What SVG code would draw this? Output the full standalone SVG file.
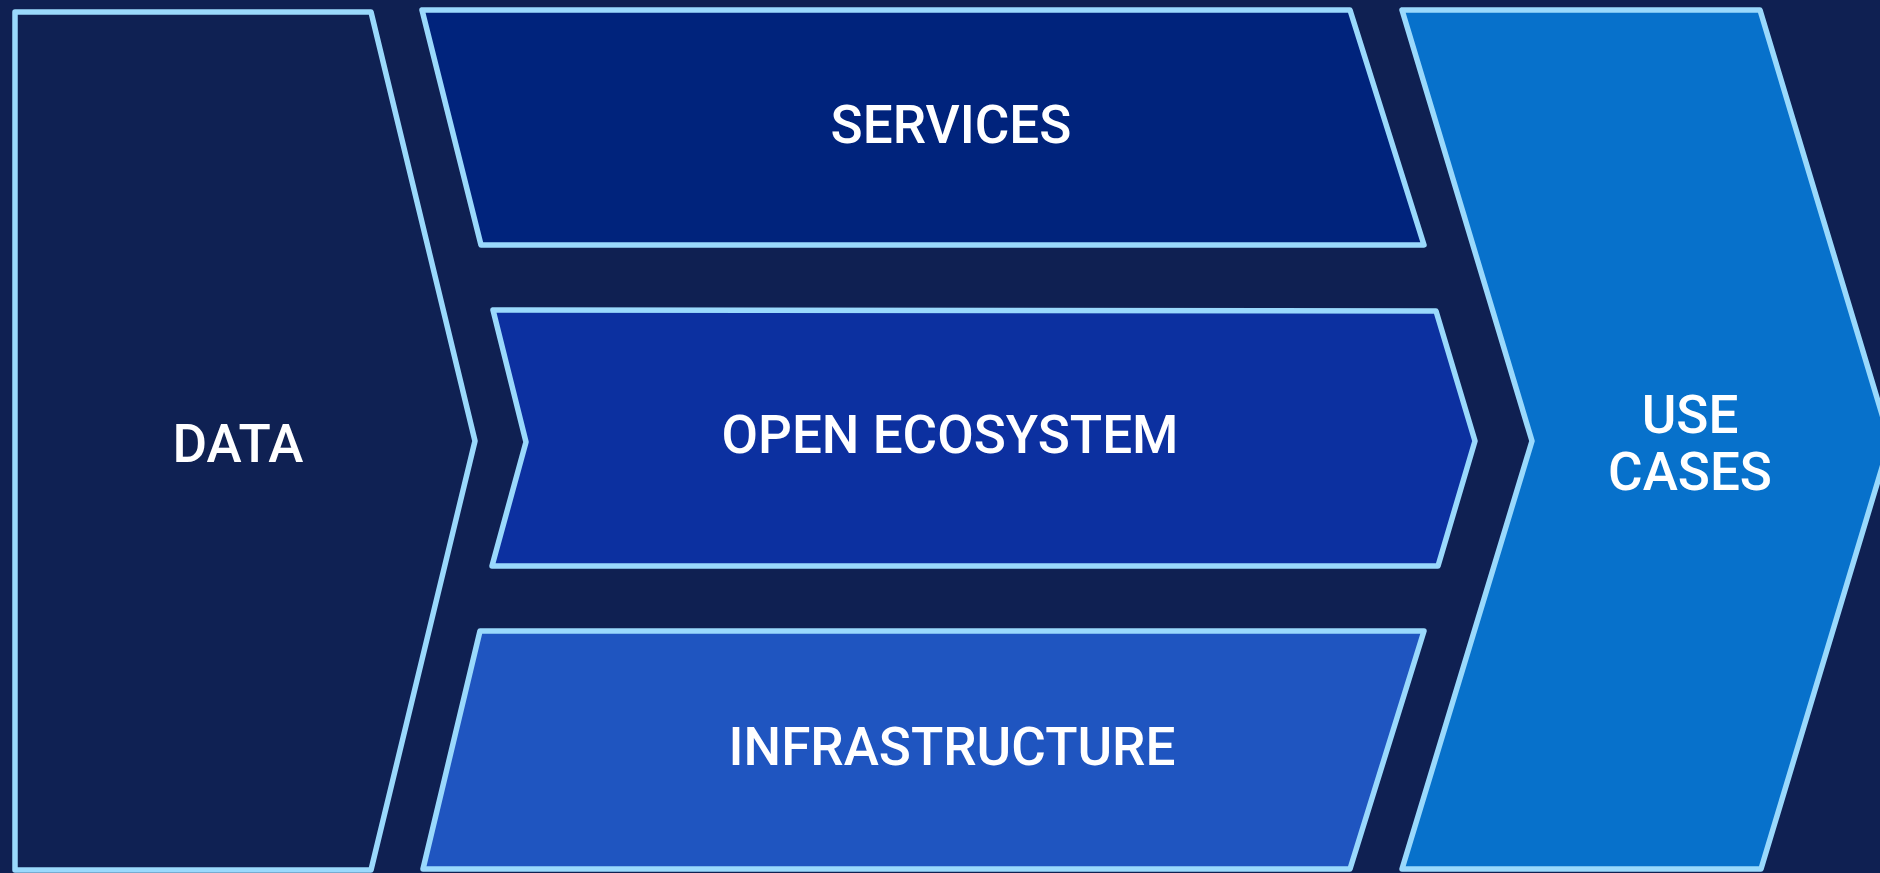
<svg xmlns="http://www.w3.org/2000/svg" width="1880" height="873" viewBox="0 0 1880 873">
  <style>
    .shape { stroke: #9ad9fc; stroke-width: 5.5; stroke-linejoin: round; }
    .label { font-family: Roboto, "Liberation Sans", sans-serif; font-size: 53px; font-weight: 500; fill: #ffffff; text-anchor: middle; }
  </style>
  <rect x="0" y="0" width="1880" height="873" fill="#0f2052"/>
  <g id="data">
    <polygon class="shape" fill="#0f2153" points="15,12 371,12 475,441 371,870 15,870"/>
    <text class="label" x="238" y="462">DATA</text>
  </g>
  <g id="services">
    <polygon class="shape" fill="#00237c" points="422,10 1350,10 1424,245 481,245"/>
    <text class="label" x="951" y="143">SERVICES</text>
  </g>
  <g id="open-ecosystem">
    <polygon class="shape" fill="#0c30a0" points="493,310 1436,311 1475,441 1438,566 492,566 526,442"/>
    <text class="label" x="950" y="453">OPEN ECOSYSTEM</text>
  </g>
  <g id="infrastructure">
    <polygon class="shape" fill="#1f55c0" points="480,631 1424,631 1350,869 423,869"/>
    <text class="label" x="952" y="765">INFRASTRUCTURE</text>
  </g>
  <g id="use-cases">
    <polygon class="shape" fill="#0771cb" points="1402,10 1760,10 1890,441 1761,869 1402,869 1532,441"/>
    <text class="label" x="1690" y="433">USE</text>
    <text class="label" x="1690" y="490">CASES</text>
  </g>
  <g id="connectors"/>
</svg>
